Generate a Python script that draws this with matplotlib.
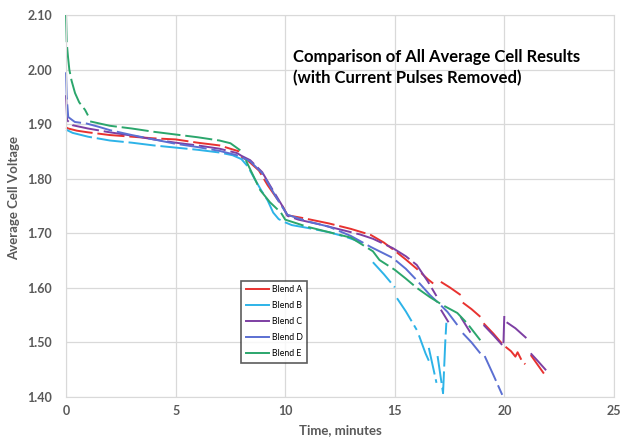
import matplotlib
matplotlib.use("Agg")
import matplotlib.pyplot as plt
import numpy as np

plt.rcParams["font.family"] = ["Lato", "DejaVu Sans"]

nan = np.nan

# Blend A (red)
t_a = [0, 0.1, 0.5, 1, 2, 3, 4, 5, 6, 7, 7.9, nan,
       8.0, 8.3, 8.8, 9.2, 9.6, 9.9, 10.1, 10.8, 12, 13, 13.9, 14.5, 15, 15.5, 16, 16.5, 16.75, nan,
       17.1, 17.5, 18.0, nan, 18.1, 18.5, 18.9, nan, 19.05, 19.5, 19.95, nan,
       20.05, 20.3, 20.5, 20.6, 20.8, 20.95, nan, 21.2, 21.5, 21.8]
v_a = [1.894, 1.892, 1.888, 1.885, 1.880, 1.877, 1.874, 1.872, 1.866, 1.861, 1.850, nan,
       1.840, 1.833, 1.815, 1.788, 1.765, 1.748, 1.733, 1.728, 1.718, 1.708, 1.697, 1.683, 1.668, 1.652, 1.635, 1.616, 1.608, nan,
       1.611, 1.601, 1.587, nan, 1.573, 1.561, 1.547, nan, 1.535, 1.516, 1.495, nan,
       1.492, 1.484, 1.474, 1.482, 1.466, 1.460, nan, 1.477, 1.460, 1.443]

# Blend B (cyan)
t_b = [0, 0.3, 1, 2, 3, 4, 5, 6, 7, 7.6, 8.0, 8.3, 8.6, 8.9, 9.2, 9.45, 9.7, 10.0, 10.3, 11, 12, 12.8, 13.5, nan,
       14.0, 14.5, 15.0, nan, 15.1, 15.5, 16.0, nan, 16.1, 16.4, 16.6, nan,
       16.55, 16.9, nan, 16.95, 17.2, 17.3, 17.35]
v_b = [1.890, 1.884, 1.877, 1.870, 1.866, 1.861, 1.857, 1.853, 1.848, 1.843, 1.836, 1.822, 1.800, 1.779, 1.760, 1.738, 1.726, 1.720, 1.715, 1.710, 1.702, 1.693, 1.683, nan,
       1.647, 1.625, 1.601, nan, 1.581, 1.557, 1.523, nan, 1.513, 1.480, 1.462, nan,
       1.490, 1.426, nan, 1.475, 1.407, 1.500, 1.536]

# Blend C (purple)
t_c = [0, 0.05, 0.3, 1, 2, 3, 4, 5, 6, 7, 7.8, 8.0, 8.4, 8.95, 9.3, 9.6, 9.9, 10.1, 10.6, 11.5, 12.5, 13.4, 14.0,
       14.9, 15.5, 16.0, 16.5, 16.9, nan, 17.1, 17.45, nan, 18.0, 18.45, nan,
       19.05, 19.5, 19.95, 20.0, nan, 20.1, 20.5, 21.0, nan, 21.2, 21.5, 21.9]
v_c = [1.953, 1.907, 1.898, 1.892, 1.885, 1.879, 1.872, 1.866, 1.861, 1.855, 1.847, 1.842, 1.834, 1.812, 1.788, 1.768, 1.748, 1.732, 1.725, 1.717, 1.707, 1.698, 1.690,
       1.673, 1.658, 1.642, 1.612, 1.585, nan, 1.560, 1.537, nan, 1.547, 1.518, nan,
       1.532, 1.513, 1.493, 1.556, nan, 1.537, 1.526, 1.508, nan, 1.480, 1.467, 1.449]

# Blend D (blue)
t_d = [0, 0.03, 0.1, 0.4, 0.95, 1.5, 2, 3, 4, 5, 6, 7, 7.8, 8.4, 8.95, 9.3, 9.6, 9.9, 10.1, 11, 12, 13, 13.9,
       14.9, 15.5, 16.0, 16.6, 17.0, 17.4, 17.85, nan, 18.1, 18.5, 18.9, nan, 19.1, 19.5, 19.9]
v_d = [1.995, 1.950, 1.913, 1.904, 1.901, 1.895, 1.889, 1.880, 1.872, 1.864, 1.858, 1.851, 1.843, 1.832, 1.810, 1.786, 1.765, 1.746, 1.734, 1.722, 1.712, 1.695, 1.675,
       1.655, 1.635, 1.614, 1.587, 1.572, 1.556, 1.532, nan, 1.517, 1.500, 1.480, nan, 1.475, 1.440, 1.404]

# Blend E (green)
t_e = [0, 0.03, 0.09, 0.15, 0.25, 0.41, 0.6, 0.87, 1.0, nan, 1.1, 2, 3, 4, 5, 6, 7, 7.5, 7.95, nan,
       8.2, 8.86, 9.3, 9.8, 10.0, 11, 12, 13, 14, 14.3, 15, 15.5, 16, 16.6, 17.2, 17.85, 18.3, 18.9]
v_e = [2.100, 2.050, 2.023, 2.000, 1.980, 1.957, 1.940, 1.926, 1.916, nan, 1.905, 1.897, 1.892, 1.886, 1.881, 1.876, 1.870, 1.865, 1.852, nan,
       1.834, 1.779, 1.757, 1.738, 1.725, 1.712, 1.702, 1.692, 1.667, 1.651, 1.633, 1.617, 1.600, 1.583, 1.568, 1.554, 1.535, 1.504]

series = [
    ("Blend A", t_a, v_a, "#e8322f"),
    ("Blend B", t_b, v_b, "#2db3e8"),
    ("Blend C", t_c, v_c, "#7d3fa3"),
    ("Blend D", t_d, v_d, "#5b6fd2"),
    ("Blend E", t_e, v_e, "#2ba66c"),
]

fig = plt.figure(figsize=(6.23, 4.37), dpi=100)
ax = fig.add_axes([0.106, 0.0915, 0.8796, 0.8742])

for name, t, v, c in series:
    ax.plot(t, v, color=c, lw=1.4, ls=(0, (14, 2.5)), label=name, clip_on=False)

ax.set_xlim(0, 25)
ax.set_ylim(1.40, 2.10)
ax.set_xticks(np.arange(0, 26, 5))
ax.set_yticks(np.arange(1.40, 2.101, 0.10))
ax.set_yticklabels([f"{y:.2f}" for y in np.arange(1.40, 2.101, 0.10)])
ax.grid(True, color="#d9d9d9", lw=0.9)
ax.set_axisbelow(True)
for s in ax.spines.values():
    s.set_color("#d9d9d9")
ax.tick_params(length=0, colors="#595959", labelsize=9)
ax.tick_params(axis="y", pad=10)
ax.tick_params(axis="x", pad=6)
for lab in ax.get_xticklabels() + ax.get_yticklabels():
    lab.set_fontweight("bold")

ax.set_xlabel("Time, minutes", fontsize=9.5, fontweight="bold", color="#595959", labelpad=5)
ax.set_ylabel("Average Cell Voltage", fontsize=9.5, fontweight="bold", color="#595959")
ax.yaxis.set_label_coords(-0.083, 0.52)

ax.text(0.415, 0.91, "Comparison of All Average Cell Results\n(with Current Pulses Removed)",
        transform=ax.transAxes, fontsize=12, fontweight="bold", color="black",
        va="top", ha="left", linespacing=1.35)

leg = ax.legend(loc="lower left", bbox_to_anchor=(0.312, 0.078), fontsize=6.3, frameon=True,
                fancybox=False, edgecolor="#333333", handlelength=2.6, handletextpad=0.4,
                labelspacing=0.8, borderpad=0.5)
leg.get_frame().set_linewidth(1.2)
for h in leg.get_lines():
    h.set_linestyle("-")

fig.savefig("out.png", dpi=100)
